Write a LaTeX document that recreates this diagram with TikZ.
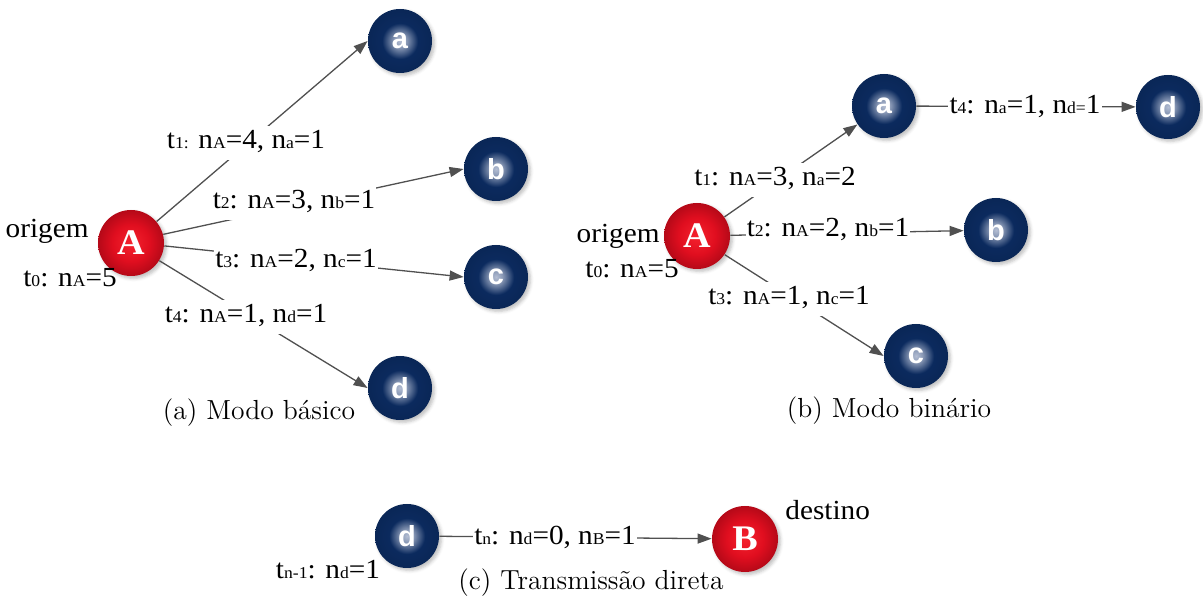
\documentclass[tikz,border=0pt]{standalone}
\usepackage{fontspec}
\usetikzlibrary{arrows.meta,shadows.blur}

\newfontfamily\lblfont{Liberation Serif}[FakeStretch=1.06]
\newfontfamily\ballsans{Liberation Sans}
\newfontfamily\capfont{Latin Modern Roman}

% small letters that stay on the baseline (indices in the state labels)
\newcommand\lowsc[1]{{\fontsize{8.3}{9}\selectfont#1}}

\definecolor{ballnavy}{HTML}{0B2A5E}
\definecolor{ballglow}{HTML}{B4BED3}
\definecolor{redhi}{HTML}{F5222E}
\definecolor{redmid}{HTML}{E00E1F}
\definecolor{redrim}{HTML}{B50918}
\definecolor{edgegray}{HTML}{505050}

\pgfdeclareradialshading{blueglow}{\pgfpoint{0bp}{0bp}}{%
  color(0bp)=(ballglow); color(5bp)=(ballglow!75!ballnavy);
  color(14bp)=(ballnavy); color(25bp)=(ballnavy!92!black);
  color(50bp)=(ballnavy!92!black)}
\pgfdeclareradialshading{redglow}{\pgfpoint{0bp}{0bp}}{%
  color(0bp)=(redhi); color(14bp)=(redmid);
  color(25bp)=(redrim); color(50bp)=(redrim)}

\tikzset{
  ballshadow/.style={blur shadow={shadow xshift=1.2pt, shadow yshift=-1.2pt,
      shadow blur radius=1.6pt, shadow opacity=25}},
  blueball/.style={circle, minimum size=32pt, inner sep=0pt, shade, shading=blueglow,
      ballshadow, text=white, font=\ballsans\bfseries\fontsize{14.5}{15}\selectfont},
  redball/.style={circle, minimum size=33pt, inner sep=0pt, shade, shading=redglow,
      ballshadow, text=white, font=\lblfont\bfseries\fontsize{18}{18}\selectfont},
  lbl/.style={fill=white, inner xsep=0.6pt, inner ysep=1.8pt, text height=9.5pt,
      text depth=3.5pt, anchor=base, font=\lblfont\fontsize{13.8}{15}\selectfont},
  plain/.style={inner sep=0pt, anchor=base, font=\lblfont\fontsize{13.8}{15}\selectfont},
  caption/.style={inner sep=0pt, anchor=base, font=\capfont\fontsize{13.8}{15}\selectfont},
  link/.style={draw=edgegray, line width=0.65pt},
  arr/.style={link, -{Triangle[length=7pt,width=5pt]}}
}

\begin{document}
\begin{tikzpicture}[x=0.5pt, y=-0.5pt]
\useasboundingbox (0,0) rectangle (1203,597);

% ---------------- (a) basic mode ----------------
\node[redball]  (A1) at (131,243) {A};
\node[blueball] (a1) at (400,41)  {a};
\node[blueball] (b1) at (496,169) {b};
\node[blueball] (c1) at (496,277) {c};
\node[blueball] (d1) at (400,388) {d};

\draw[arr] (A1.40)  -- (a1.west);
\draw[arr] (A1.15)  -- (b1.west);
\draw[arr] (A1.-5)  -- (c1.west);
\draw[arr] (A1.-32) -- (d1.west);

\node[lbl] (la1) at (246,149) {t\lowsc{1:} n\lowsc{A}=4, n\lowsc{a}=1};
\node[lbl] (la2) at (294,209) {t\lowsc{2}: n\lowsc{A}=3, n\lowsc{b}=1};
\node[lbl] (la3) at (296,268) {t\lowsc{3}: n\lowsc{A}=2, n\lowsc{c}=1};
\node[lbl] (la4) at (246,323) {t\lowsc{4}: n\lowsc{A}=1, n\lowsc{d}=1};

\node[plain, anchor=base east] (orA) at (89,238) {origem};
\node[plain] (t0A) at (70,287) {t\lowsc{0}: n\lowsc{A}=5};
\node[caption] (capA) at (259,420) {(a) Modo básico};

% ---------------- (b) binary mode ----------------
\node[redball]  (A2) at (697,236)  {A};
\node[blueball] (a2) at (884,106)  {a};
\node[blueball] (d2) at (1168,107) {d};
\node[blueball] (b2) at (996,230)  {b};
\node[blueball] (c2) at (916,356)  {c};

\draw[arr] (A2) -- (a2);
\draw[arr] (A2) -- (b2);
\draw[arr] (A2.-34) -- (c2.west);
\draw[arr] (a2) -- (d2);

\node[lbl] (lb1) at (775,186)  {t\lowsc{1}: n\lowsc{A}=3, n\lowsc{a}=2};
\node[lbl] (lb2) at (828,237)  {t\lowsc{2}: n\lowsc{A}=2, n\lowsc{b}=1};
\node[lbl] (lb3) at (789,305)  {t\lowsc{3}: n\lowsc{A}=1, n\lowsc{c}=1};
\node[lbl] (lb4) at (1025,114) {t\lowsc{4}: n\lowsc{a}=1, n\lowsc{d=}1};

\node[plain, anchor=base east] (orB) at (660,243) {origem};
\node[plain] (t0B) at (632,278) {t\lowsc{0}: n\lowsc{A}=5};
\node[caption] (capB) at (889,418) {(b) Modo binário};

% ---------------- (c) direct transmission ----------------
\node[blueball] (d3) at (407,536) {d};
\node[redball]  (B3) at (745,539) {B};

\draw[arr] (d3) -- (B3);
\node[lbl] (lc1) at (555,545) {t\lowsc{n}: n\lowsc{d}=0, n\lowsc{B}=1};

\node[plain, anchor=base west] (dest) at (785,520) {destino};
\node[plain] (tn1) at (328,578) {t\lowsc{n-1}: n\lowsc{d}=1};
\node[caption] (capC) at (591,589) {(c) Transmissão direta};
\end{tikzpicture}
\end{document}
